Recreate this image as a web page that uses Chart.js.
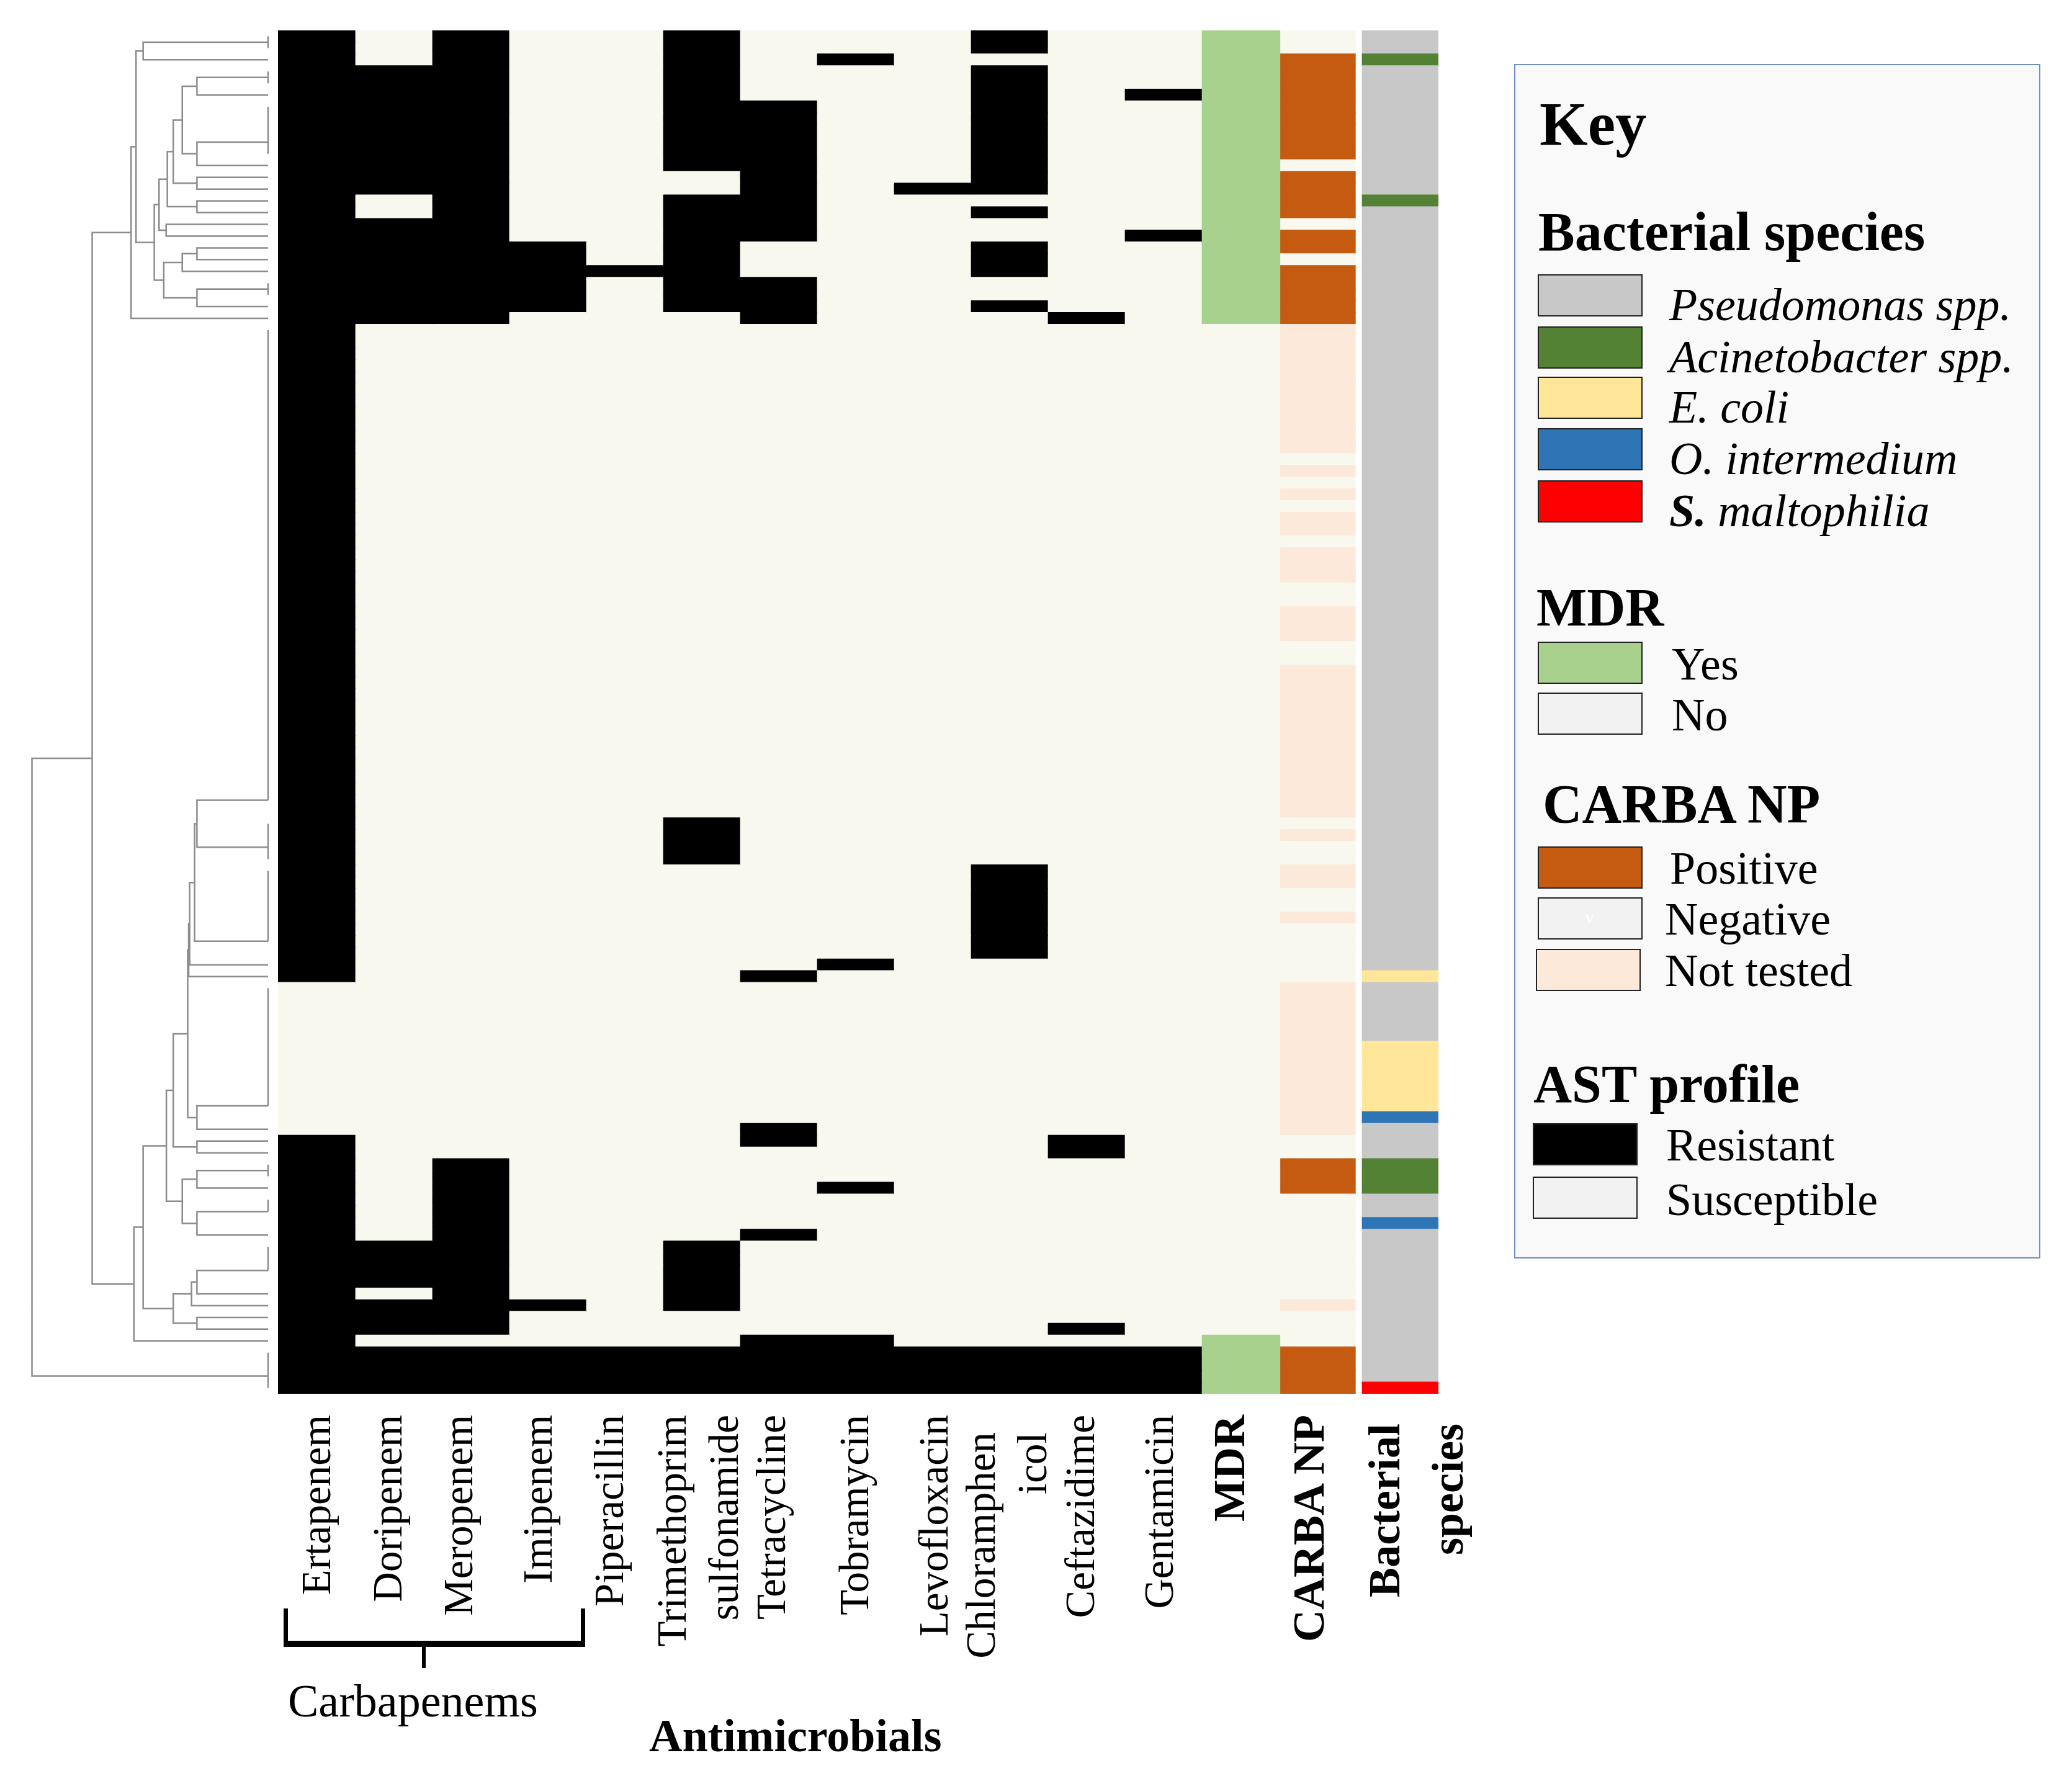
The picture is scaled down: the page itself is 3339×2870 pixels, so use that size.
<!DOCTYPE html>
<html>
<head>
<meta charset="utf-8">
<script src="https://cdn.jsdelivr.net/npm/chart.js@4.4.1/dist/chart.umd.min.js"></script>
<style>
  html, body { margin: 0; padding: 0; background: #fff; }
  #page { position: relative; width: 3339px; height: 2870px; overflow: hidden; font-family: "Liberation Serif", "Times New Roman", serif; color: #000; }
  canvas { position: absolute; left: 0; top: 0; }
  .rot { position: absolute; width: 700px; height: 80px; line-height: 80px; font-size: 67px; text-align: right; white-space: nowrap; transform-origin: 0 0; transform: rotate(-90deg); }
  .rot.b { font-weight: bold; font-size: 72px; }
  .txt { position: absolute; white-space: nowrap; line-height: 1; }
  .head { font-weight: bold; }
  .sw { position: absolute; width: 165px; height: 64px; border: 2px solid #222; }
  .line { position: absolute; background: #000; }
  #key { position: absolute; left: 2440px; top: 103px; width: 844px; height: 1921px; border: 2px solid #6f8fc0; background: #f9f9f9; }
</style>
</head>
<body>
<div id="page">
  <canvas id="heat" width="3339" height="2870"></canvas>
  <canvas id="dendro" width="3339" height="2870"></canvas>
  <div id="key"></div>
</div>
<script>
const rowCount = 116

const columnLabels = [['Ertapenem'], ['Doripenem'], ['Meropenem'], ['Imipenem'], ['Piperacillin'],
    ['Trimethoprim', 'sulfonamide'], ['Tetracycline'], ['Tobramycin'], ['Levofloxacin'],
    ['Chloramphen', 'icol'], ['Ceftazidime'], ['Gentamicin'], ['MDR'], ['CARBA NP'], ['Bacterial', 'species']]

// resistant isolates per antimicrobial, [first row, last row], rows counted from the top
const ertapenem = [[0, 80], [94, 115]]
const doripenem = [[3, 13], [16, 24], [103, 106], [108, 110], [112, 115]]
const meropenem = [[0, 24], [96, 110], [112, 115]]
const imipenem = [[18, 23], [108, 108], [112, 115]]
const piperacillin = [[20, 20], [112, 115]]
const trimethoprim = [[0, 11], [14, 23], [67, 70], [103, 108], [112, 115]]
const tetracycline = [[6, 17], [21, 24], [80, 80], [93, 94], [102, 102], [111, 115]]
const tobramycin = [[2, 2], [79, 79], [98, 98], [111, 115]]
const levofloxacin = [[13, 13], [112, 115]]
const chloramphenicol = [[0, 1], [3, 13], [15, 15], [18, 20], [23, 23], [71, 78], [112, 115]]
const ceftazidime = [[24, 24], [94, 95], [110, 110], [112, 115]]
const gentamicin = [[5, 5], [17, 17], [112, 115]]

const mdrYes = [[0, 24], [111, 115]]

const carbaPositive = [[2, 10], [12, 15], [17, 18], [20, 24], [96, 98], [112, 115]]
const carbaNotTested = [[25, 35], [37, 37], [39, 39], [41, 42], [44, 46], [49, 51], [54, 66], [68, 68],
    [71, 72], [75, 75], [81, 93], [108, 108]]

// species, everything not listed is Pseudomonas spp.
const acinetobacter = [[2, 2], [14, 14], [96, 98]]
const eColi = [[80, 80], [86, 91]]
const oIntermedium = [[92, 92], [101, 101]]
const sMaltophilia = [[115, 115]]

// dendrogram: [merge distance, child, child], a leaf is its row position
const dendroTree = [0.996,
    [0.742,
        [0.578,
            [0.557, [0.527, 0.5, 2],
                [0.48,
                    [0.46,
                        [0.425, [0.40, [0.362, [0.30, 3.5, 5], [0.30, 9, 11]], [0.30, 12, 13]], [0.30, 14, 15]],
                        [0.43, 16, 17]],
                    [0.44, [0.362, [0.30, 18, 19], 20], [0.30, 21.5, 23]]]],
            24],
        [0.566,
            [0.527,
                [0.429,
                    [0.40,
                        [0.339, [0.335, [0.331, [0.31, [0.30, 65, 69], 77], 79], 80], [0.30, 91, 93]],
                        [0.30, 94, 95]],
                    [0.362, [0.30, 96.5, 98], [0.30, 100, 102]]],
                [0.40, [0.323, [0.30, 105, 107], 108], [0.30, 109, 110]]],
            111]],
    114]
const identicalGroups = [[0, 1], [3, 4], [6, 10], [21, 22], [25, 65], [67, 70], [71, 77], [81, 91],
    [96, 97], [99, 100], [103, 105], [112, 115]]

const speciesKey = [
    ['Pseudomonas spp.', '#c8c8c8'], ['Acinetobacter spp.', '#548235'], ['E. coli', '#ffe699'],
    ['O. intermedium', '#2e75b6'], ['S. maltophilia', '#ff0000']]

const cream = '#f8f8ef'
const peach = '#fde9d9'
const orange = '#c55a11'
const mdrGreen = '#a9d18e'

let expand = function(ranges) {
    let rows = new Array(rowCount).fill(0)
    ranges.forEach(([a, b]) => {
        for (let r = a; r <= b; r++) rows[r] = 1
    })
    return rows
}

let drugs = [ertapenem, doripenem, meropenem, imipenem, piperacillin, trimethoprim,
    tetracycline, tobramycin, levofloxacin, chloramphenicol, ceftazidime, gentamicin]

let columnColors = drugs.map(d => expand(d).map(v => v ? '#000000' : cream))
columnColors.push(expand(mdrYes).map(v => v ? mdrGreen : cream))
let pos = expand(carbaPositive), nt = expand(carbaNotTested)
columnColors.push(pos.map((v, r) => v ? orange : (nt[r] ? peach : cream)))
let speciesCol = new Array(rowCount).fill(speciesKey[0][1])
;[acinetobacter, eColi, oIntermedium, sMaltophilia].forEach((ranges, i) => {
    expand(ranges).forEach((v, r) => { if (v) speciesCol[r] = speciesKey[i + 1][1] })
})
columnColors.push(speciesCol)

let colSpan = function(j) {
    if (j < 12) return [j, j + 1]
    if (j === 12) return [12, 13.02]
    if (j === 13) return [13.02, 14]
    return [14.09, 15.08]
}

let rowLabels = []
for (let r = 0; r < rowCount; r++) rowLabels.push(String(r + 1))

let heat = new Chart(document.getElementById('heat'), {
    type: 'bar',
    data: {
        labels: rowLabels,
        datasets: columnColors.map((colors, j) => ({
            label: columnLabels[j].join(' '),
            data: rowLabels.map(() => colSpan(j)),
            backgroundColor: colors,
            borderWidth: 0,
            inflateAmount: 0.6,
            barPercentage: 1,
            categoryPercentage: 1,
            grouped: false
        }))
    },
    options: {
        indexAxis: 'y',
        responsive: false,
        animation: false,
        devicePixelRatio: 1,
        layout: { padding: { left: 448, right: 1021, top: 49, bottom: 624 } },
        scales: {
            x: { type: 'linear', min: 0, max: 15.08, display: false },
            y: { type: 'category', display: false }
        },
        plugins: { legend: { display: false }, tooltip: { enabled: false } }
    }
})

let treePoints = []
let drawNode = function(node) {
    if (typeof node === 'number') return { y: node, h: 0 }
    let a = drawNode(node[1]), b = drawNode(node[2])
    treePoints.push({ x: a.h, y: a.y }, { x: node[0], y: a.y }, { x: node[0], y: b.y }, { x: b.h, y: b.y }, { x: NaN, y: NaN })
    return { y: (a.y + b.y) / 2, h: node[0] }
}
drawNode(dendroTree)

let tickPoints = []
identicalGroups.forEach(([a, b]) => tickPoints.push({ x: 0, y: a }, { x: 0, y: b }, { x: NaN, y: NaN }))

let dendro = new Chart(document.getElementById('dendro'), {
    type: 'scatter',
    data: {
        datasets: [
            { data: treePoints, showLine: true, borderColor: '#8c8c8c', borderWidth: 2.5, pointRadius: 0, spanGaps: false, clip: false },
            { data: tickPoints, showLine: true, borderColor: '#8c8c8c', borderWidth: 2.5, pointRadius: 0, spanGaps: false, clip: false }
        ]
    },
    options: {
        responsive: false,
        animation: false,
        devicePixelRatio: 1,
        layout: { padding: { left: 50, right: 3339 - 432, top: 49, bottom: 624 } },
        scales: {
            x: { type: 'linear', min: 0, max: 1, reverse: true, display: false },
            y: { type: 'linear', min: -0.5, max: 115.5, reverse: true, display: false }
        },
        plugins: { legend: { display: false }, tooltip: { enabled: false } }
    }
})

let page = document.getElementById('page')
let add = function(html, cls, style) {
    let el = document.createElement('div')
    el.className = cls
    el.innerHTML = html
    Object.assign(el.style, style)
    page.appendChild(el)
    return el
}

// column labels, rotated, placed from the bar chart's x scale
let spread = { 5: [-42, 42], 9: [-40, 43], 14: [-20, 82] }
let nudge = [5, -4, -14, -10, -19, 0, -6, 4, 8, 0, -4, -1, -12, -8, 0]
let topEnd = { 9: 2308, 14: 2294 }
columnLabels.forEach((lines, j) => {
    let [a, b] = colSpan(j)
    let cx = heat.scales.x.getPixelForValue((a + b) / 2) + nudge[j]
    let offs = spread[j] || [0]
    lines.forEach((t, k) => {
        let x = cx + offs[k]
        let y0 = topEnd[j] || 2280
        add(t, j >= 12 ? 'rot b' : 'rot', { left: (x - 46) + 'px', top: (y0 + 700) + 'px' })
    })
})

// carbapenem bracket
add('', 'line', { left: '457px', top: '2592px', width: '7px', height: '62px' })
add('', 'line', { left: '936px', top: '2592px', width: '7px', height: '62px' })
add('', 'line', { left: '457px', top: '2644px', width: '486px', height: '10px' })
add('', 'line', { left: '680px', top: '2654px', width: '6px', height: '34px' })
add('Carbapenems', 'txt', { left: '464px', top: '2704px', fontSize: '74px' })
add('Antimicrobials', 'txt head', { left: '1046px', top: '2760px', fontSize: '74px' })

// key
add('Key', 'txt head', { left: '2481px', top: '150px', fontSize: '100px' })
add('Bacterial species', 'txt head', { left: '2479px', top: '330px', fontSize: '88px' })
let speciesTops = [442, 526, 607, 690, 774]
speciesKey.forEach(([name, color], i) => {
    add('', 'sw', { left: '2478px', top: speciesTops[i] + 'px', background: color })
    let html = name.startsWith('S.') ? '<b>S.</b> maltophilia' : name
    add(html, 'txt', { left: '2690px', top: (speciesTops[i] + 12) + 'px', fontSize: '74px', fontStyle: 'italic' })
})

add('MDR', 'txt head', { left: '2476px', top: '936px', fontSize: '86px' })
add('', 'sw', { left: '2478px', top: '1034px', background: mdrGreen })
add('Yes', 'txt', { left: '2694px', top: '1033px', fontSize: '74px' })
add('', 'sw', { left: '2478px', top: '1116px', background: '#f2f2f2' })
add('No', 'txt', { left: '2694px', top: '1115px', fontSize: '74px' })

add('CARBA NP', 'txt head', { left: '2486px', top: '1252px', fontSize: '88px' })
add('', 'sw', { left: '2478px', top: '1364px', background: orange })
add('Positive', 'txt', { left: '2691px', top: '1362px', fontSize: '74px' })
add('', 'sw', { left: '2478px', top: '1446px', background: '#f2f2f2' })
add('v', 'txt', { left: '2554px', top: '1463px', fontSize: '30px', color: '#ffffff' })
add('Negative', 'txt', { left: '2683px', top: '1444px', fontSize: '74px' })
add('', 'sw', { left: '2475px', top: '1529px', background: peach })
add('Not tested', 'txt', { left: '2683px', top: '1527px', fontSize: '74px' })

add('AST profile', 'txt head', { left: '2471px', top: '1704px', fontSize: '86px' })
add('', 'sw', { left: '2470px', top: '1810px', background: '#000000' })
add('Resistant', 'txt', { left: '2685px', top: '1808px', fontSize: '74px' })
add('', 'sw', { left: '2470px', top: '1896px', background: '#f2f2f2' })
add('Susceptible', 'txt', { left: '2685px', top: '1896px', fontSize: '74px' })
</script>
</body>
</html>
